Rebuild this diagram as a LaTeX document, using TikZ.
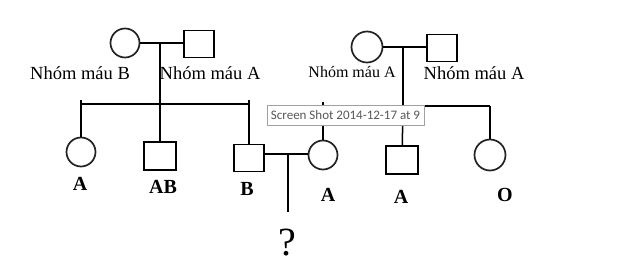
\documentclass[tikz,border=0pt]{standalone}
\usepackage{fontspec}
\setmainfont{Liberation Serif}
\newfontfamily\tipfont{Carlito}
\usetikzlibrary{positioning,calc}
\definecolor{pedline}{HTML}{222222}
\definecolor{tipgray}{HTML}{575757}
\definecolor{tipborder}{HTML}{A0A0A0}

\begin{document}
\begin{tikzpicture}[
  x=1pt, y=-1pt,
  line width=1.5pt,
  female/.style={circle, draw=pedline, line width=1.7pt, fill=white, minimum size=29pt, inner sep=0pt},
  male/.style={rectangle, draw=black, line width=1.5pt, fill=white, minimum width=30pt, minimum height=27pt, inner sep=0pt},
  bloodlbl/.style={font=\fontsize{18.5}{20}\selectfont, inner sep=0pt},
  typelbl/.style={font=\fontsize{20}{22}\selectfont\bfseries, inner sep=0pt}
]
  \useasboundingbox (0,0) rectangle (622,280);

  % Left grandparents
  \node[female] (gpl_f) at (125,43) {};
  \node[male] (gpl_m) at (199,44) {};
  \node[bloodlbl] (gpl_f_lbl) at (80,73) {Nhóm máu B};
  \node[bloodlbl] (gpl_m_lbl) at (210,73) {Nhóm máu A};
  \coordinate (mar_l) at (160,43);
  \coordinate (sib_l) at (160,104);
  \draw (gpl_f) -- (gpl_f -| gpl_m.west);
  \draw (mar_l) -- (sib_l);

  % Left children
  \node[female] (kid_a) at (81,152) {};
  \node[male, minimum width=32pt, minimum height=28pt] (kid_b) at (160,156) {};
  \node[male] (kid_c) at (249,158) {};
  \node[typelbl] (kid_a_lbl) at (80,184) {A};
  \node[typelbl] (kid_b_lbl) at (163,187) {AB};
  \node[typelbl] (kid_c_lbl) at (247,189) {B};
  \draw ([yshift=4pt]kid_a |- sib_l) -- (kid_a);
  \draw (kid_a |- sib_l) -- (kid_c |- sib_l);
  \draw ([yshift=4pt]kid_c |- sib_l) -- (kid_c);
  \draw (sib_l) -- (kid_b);

  % Right grandparents
  \node[female, minimum size=31pt] (gpr_f) at (367,47) {};
  \node[male] (gpr_m) at (442,48) {};
  \node[bloodlbl, font=\fontsize{16}{18}\selectfont] (gpr_f_lbl) at (352,72) {Nhóm máu A};
  \node[bloodlbl] (gpr_m_lbl) at (474,73) {Nhóm máu A};
  \coordinate (mar_r) at (403,46);
  \coordinate (sib_r) at (403,106);
  \draw (gpr_f) -- (gpr_f -| gpr_m.west);
  \draw (mar_r) -- (sib_r);

  % Right children
  \node[female] (kid_d) at (323,155) {};
  \node[male, minimum width=32pt, minimum height=28pt] (kid_e) at (402,160) {};
  \node[female, minimum size=31pt] (kid_f) at (490,155) {};
  \node[typelbl] (kid_d_lbl) at (328,195) {A};
  \node[typelbl] (kid_e_lbl) at (401,197) {A};
  \node[typelbl] (kid_f_lbl) at (505,195) {O};
  \draw ([yshift=4pt]kid_d |- sib_r) -- (kid_d);
  \draw (kid_d |- sib_r) -- (kid_f |- sib_r);
  \draw (sib_r) -- (kid_e);
  \draw (kid_f |- sib_r) -- (kid_f);

  % Couple B x A and the unknown child
  \coordinate (mar_m) at (288,154);
  \coordinate (kid_q_top) at (288,212);
  \draw (kid_c.east |- mar_m) -- (kid_d.west |- mar_m);
  \draw (mar_m) -- (kid_q_top);
  \node[font=\fontsize{40}{44}\selectfont, inner sep=0pt] (kid_q) at (287,243) {?};

  % Tooltip left over from the screenshot
  \node[draw=tipborder, line width=0.6pt, fill=white, text=tipgray, font=\tipfont\fontsize{13}{15}\selectfont,
        minimum width=157pt, minimum height=20pt, inner sep=0pt] (tip) at (345.5,115) {Screen Shot 2014-12-17 at 9};

\end{tikzpicture}
\end{document}
